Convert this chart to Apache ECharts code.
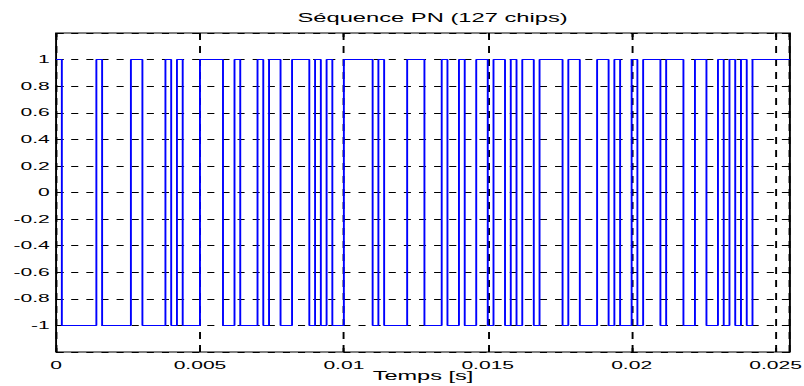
<!DOCTYPE html>
<html>
<head>
<meta charset="utf-8">
<title>Séquence PN (127 chips)</title>
<script src="https://cdn.jsdelivr.net/npm/echarts@6/dist/echarts.min.js"></script>
<style>
  html, body { margin: 0; padding: 0; background: #fff; overflow: hidden; }
  #wrap { width: 804px; height: 386px; overflow: hidden; }
  /* figure is laid out at 420 px wide and stretched to the page width */
  #chart { width: 420px; height: 386px; transform: scaleX(1.914); transform-origin: 0 0; }
</style>
</head>
<body>
<div id="wrap"><div id="chart"></div></div>
<script>
// PN chip values (+1 / -1), one entry per chip
const chips = [
   1,-1,-1,-1,-1,-1,-1, 1,-1,-1,-1,-1,-1, 1, 1,-1,
  -1,-1,-1, 1,-1, 1,-1,-1,-1, 1, 1, 1, 1,-1,-1, 1,
  -1,-1,-1, 1,-1, 1, 1,-1,-1, 1, 1, 1,-1, 1,-1, 1,
  -1,-1, 1, 1, 1, 1, 1,-1, 1,-1,-1,-1,-1, 1, 1, 1,
  -1,-1,-1, 1,-1,-1, 1,-1,-1, 1, 1,-1, 1, 1,-1, 1,
  -1, 1, 1,-1, 1, 1, 1, 1,-1, 1, 1,-1,-1,-1, 1, 1,
  -1, 1,-1,-1, 1,-1, 1, 1, 1,-1, 1, 1, 1,-1,-1, 1,
   1,-1,-1, 1,-1, 1,-1, 1,-1, 1, 1, 1, 1, 1, 1
];
const chipDuration = 0.0002;          // seconds per chip
const xTicks = [0, 0.005, 0.01, 0.015, 0.02, 0.025];
const yTicks = [-1, -0.8, -0.6, -0.4, -0.2, 0, 0.2, 0.4, 0.6, 0.8, 1];
const xRange = [0, 0.0255];
const yRange = [-1.2, 1.2];

// staircase points: each chip holds its value until the next chip starts
const wave = chips.map((v, k) => [k * chipDuration, v]);
wave.push([xRange[1], chips[chips.length - 1]]);

const FONT = 'Liberation Sans, Arial, Helvetica, sans-serif';
const near = (v, list) => list.some(t => Math.abs(t - v) < 1e-9);

const chart = echarts.init(document.getElementById('chart'), null, { renderer: 'svg' });

const tickStyle = { show: true, inside: true, length: 4, lineStyle: { color: '#000', width: 1 } };
const xBase = {
  type: 'value', min: xRange[0], max: xRange[1], interval: 0.005,
  axisLine: { show: false, onZero: false },
  axisTick: tickStyle
};
const yBase = {
  type: 'value', min: yRange[0], max: yRange[1], interval: 0.2,
  axisLine: { show: false, onZero: false },
  axisTick: tickStyle
};

chart.setOption({
  animation: false,
  backgroundColor: '#fff',
  title: {
    text: 'Séquence PN (127 chips)',
    left: 221, top: 7, textAlign: 'center',
    textStyle: { fontFamily: FONT, fontSize: 12.4, fontWeight: 'normal', color: '#000' }
  },
  grid: {
    left: 29.3, right: 7.3, top: 33, bottom: 34,
    outerBoundsMode: 'none', containLabel: false,
    show: true, borderColor: '#000', borderWidth: 1, backgroundColor: 'transparent'
  },
  xAxis: [
    Object.assign({}, xBase, {
      position: 'bottom',
      name: 'Temps [s]', nameLocation: 'middle', nameGap: 18,
      nameMoveOverlap: false,
      nameTextStyle: { fontFamily: FONT, fontSize: 12.3, color: '#000' },
      axisLabel: {
        margin: 8, fontFamily: FONT, fontSize: 11, color: '#000',
        showMaxLabel: false,
        formatter: v => near(v, xTicks) ? String(+v.toFixed(3)) : ''
      },
      splitLine: { show: true, lineStyle: { color: '#000', width: 1, type: [7, 6] } }
    }),
    Object.assign({}, xBase, {
      position: 'top', axisLabel: { show: false }, splitLine: { show: false }
    })
  ],
  yAxis: [
    Object.assign({}, yBase, {
      position: 'left',
      axisLabel: {
        margin: 3.3, fontFamily: FONT, fontSize: 11, color: '#000',
        formatter: v => near(v, yTicks) ? String(+v.toFixed(1)) : ''
      },
      splitLine: { show: true, lineStyle: { color: '#000', width: 1, type: [3.7, 4.2] } }
    }),
    Object.assign({}, yBase, {
      position: 'right', axisLabel: { show: false }, splitLine: { show: false }
    })
  ],
  series: [{
    type: 'line',
    xAxisIndex: 0, yAxisIndex: 0,
    data: wave,
    step: 'end',
    showSymbol: false, symbol: 'none',
    lineStyle: { color: '#0000ff', width: 1 },
    z: 5
  }]
});
</script>
</body>
</html>
